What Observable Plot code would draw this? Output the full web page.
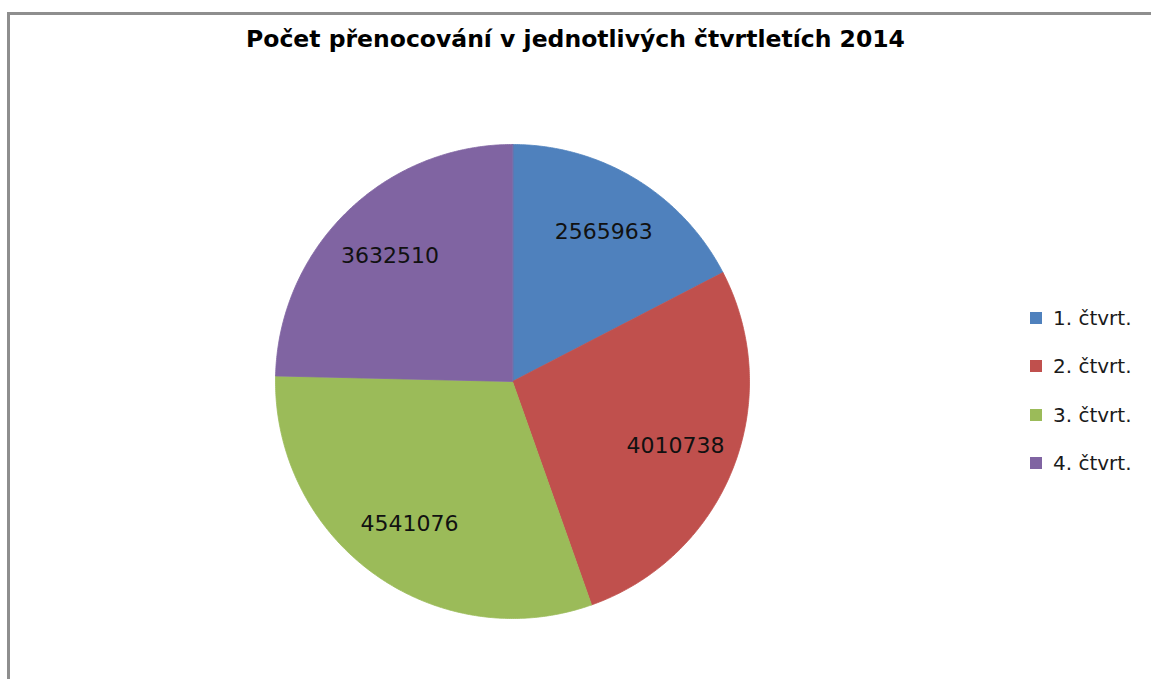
<!DOCTYPE html>
<html>
<head>
<meta charset="utf-8">
<script src="https://cdn.jsdelivr.net/npm/d3@7"></script>
<script src="https://cdn.jsdelivr.net/npm/@observablehq/plot@0.6"></script>
<style>
  html, body { margin: 0; padding: 0; background: #fff; overflow: hidden; }
  #wrap { position: relative; width: 1151px; height: 679px; overflow: hidden; font-family: "DejaVu Sans", sans-serif; }
  #frame { position: absolute; left: 7px; top: 12px; width: 1144px; height: 667px; border-top: 3px solid #8e8e8e; border-left: 3px solid #8e8e8e; box-sizing: border-box; }
  #title { position: absolute; left: 0; width: 1151px; top: 25px; text-align: center; font-weight: bold; font-size: 23.5px; color: #000; white-space: nowrap; }
  #chart { position: absolute; left: 0; top: 0; line-height: 0; }
  #legend { position: absolute; left: 1030px; top: 294px; }
  .item { display: flex; align-items: center; height: 48.3px; font-size: 20px; color: #1a1a1a; white-space: nowrap; }
  .sw { width: 12px; height: 12px; margin-right: 11px; }
</style>
</head>
<body>
<div id="wrap">
  <div id="chart"></div>
  <div id="frame"></div>
  <div id="title"></div>
  <div id="legend"></div>
</div>
<script>
const chartTitle = "Počet přenocování v jednotlivých čtvrtletích 2014";
const quarters = ["1. čtvrt.", "2. čtvrt.", "3. čtvrt.", "4. čtvrt."];
const values = [2565963, 4010738, 4541076, 3632510];
const colors = ["#4F81BD", "#C0504D", "#9BBB59", "#8064A2"];

const rows = quarters.map((q, i) => ({quarter: q, value: values[i]}));
const arcs = d3.pie().sort(null).value(d => d.value)(rows);

// slice polygons on the unit circle (angle 0 at 12 o'clock, clockwise)
const poly = [];
for (const a of arcs) {
  poly.push({quarter: a.data.quarter, x: 0, y: 0});
  const n = Math.max(2, Math.ceil((a.endAngle - a.startAngle) / (Math.PI / 360)));
  for (let k = 0; k <= n; k++) {
    const t = a.startAngle + (a.endAngle - a.startAngle) * k / n;
    poly.push({quarter: a.data.quarter, x: Math.sin(t), y: Math.cos(t)});
  }
}
const labelR = 0.74;
const labels = arcs.map(a => {
  const m = (a.startAngle + a.endAngle) / 2;
  return {quarter: a.data.quarter, value: a.data.value, x: labelR * Math.sin(m), y: labelR * Math.cos(m)};
});

const W = 1151, H = 679, cx = 512, cy = 381, R = 237;
const plot = Plot.plot({
  width: W, height: H,
  margin: 0,
  x: {domain: [-cx / R, (W - cx) / R], axis: null},
  y: {domain: [(cy - H) / R, cy / R], axis: null},
  color: {domain: quarters, range: colors},
  style: {background: "transparent", fontFamily: "DejaVu Sans, sans-serif"},
  marks: [
    Plot.line(poly, {x: "x", y: "y", z: "quarter", fill: "quarter", stroke: "quarter", strokeWidth: 0.8, curve: "linear-closed"}),
    Plot.text(labels, {x: "x", y: "y", text: d => String(d.value), fontSize: 22, fill: "#111"})
  ]
});
document.getElementById("chart").appendChild(plot);
document.getElementById("title").textContent = chartTitle;

const legend = document.getElementById("legend");
quarters.forEach((q, i) => {
  const it = document.createElement("div");
  it.className = "item";
  const sw = document.createElement("div");
  sw.className = "sw";
  sw.style.background = colors[i];
  const tx = document.createElement("span");
  tx.textContent = q;
  it.appendChild(sw); it.appendChild(tx);
  legend.appendChild(it);
});
</script>
</body>
</html>
